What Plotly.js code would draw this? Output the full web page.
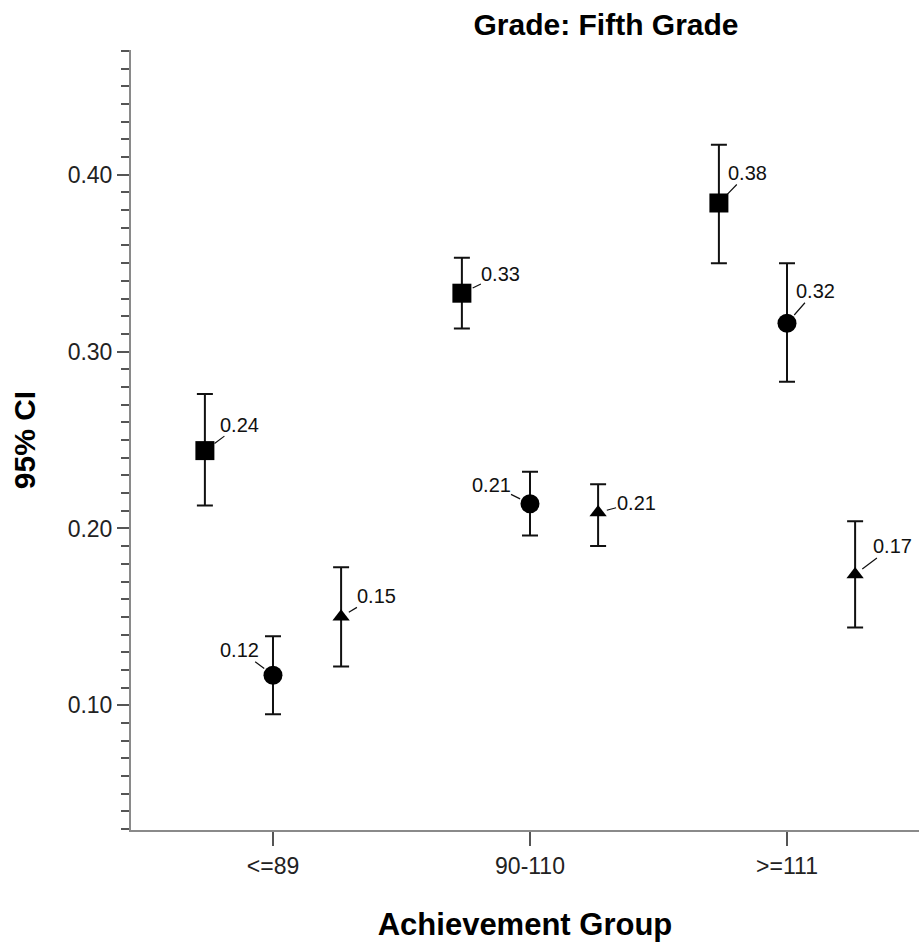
<!DOCTYPE html>
<html>
<head>
<meta charset="utf-8">
<script src="https://cdn.plot.ly/plotly-3.0.1.min.js"></script>
<style>html,body{margin:0;padding:0;background:#fff;}#chart{width:919px;height:949px;}</style>
</head>
<body>
<div id="chart"></div>
<script>
// Data
const categories = ["<=89", "90-110", ">=111"];
const squareMean = [0.244, 0.333, 0.384];
const squareHigh = [0.276, 0.353, 0.417];
const squareLow  = [0.213, 0.313, 0.350];
const circleMean = [0.117, 0.214, 0.316];
const circleHigh = [0.139, 0.232, 0.350];
const circleLow  = [0.095, 0.196, 0.283];
const triangleMean = [0.150, 0.209, 0.174];
const triangleHigh = [0.178, 0.225, 0.204];
const triangleLow  = [0.122, 0.190, 0.144];

const FONT = "Arial, 'Liberation Sans', sans-serif";
const idx = categories.map((c, i) => i);

const series = [
  {mean: squareMean, hi: squareHigh, lo: squareLow, off: -0.265, symbol: 'square', size: 19, so: 12,
   lab: [[35, -26], [39, -19], [29, -30]]},
  {mean: circleMean, hi: circleHigh, lo: circleLow, off: 0, symbol: 'circle', size: 19, so: 11,
   lab: [[-33, -25], [-39, -19], [28, -32]]},
  {mean: triangleMean, hi: triangleHigh, lo: triangleLow, off: 0.265, symbol: 'triangle-up', size: 15, so: 9,
   lab: [[35, -21], [38, -10], [37, -28]]}
];

const traces = [];
const annotations = [];
series.forEach(s => {
  const xs = idx.map(i => i + s.off);
  traces.push({
    type: 'scatter', mode: 'markers', x: xs, y: s.mean, showlegend: false,
    marker: {symbol: s.symbol, size: s.size, color: '#000', line: {width: 0}},
    error_y: {type: 'data', symmetric: false,
      array: s.mean.map((v, i) => s.hi[i] - v),
      arrayminus: s.mean.map((v, i) => v - s.lo[i]),
      color: '#111', thickness: 2, width: 8},
    hoverinfo: 'x+y'
  });
  s.mean.forEach((v, i) => {
    annotations.push({
      x: xs[i], y: v, xref: 'x', yref: 'y', text: v.toFixed(2),
      showarrow: true, arrowhead: 0, arrowwidth: 1.2, arrowcolor: '#111',
      ax: s.lab[i][0], ay: s.lab[i][1], standoff: s.so, borderpad: 0,
      font: {family: FONT, size: 20, color: '#111'}
    });
  });
});

const layout = {
  width: 919, height: 949,
  margin: {l: 131, r: 0, t: 50, b: 119, pad: 0},
  paper_bgcolor: '#fff', plot_bgcolor: '#fff',
  font: {family: FONT, color: '#111'},
  title: {text: 'Grade: Fifth Grade', x: 606/919, xanchor: 'center', xref: 'container',
          y: 1 - 24/949, yanchor: 'middle', yref: 'container',
          font: {family: FONT, size: 30, weight: 'bold', color: '#000'}},
  xaxis: {
    range: [-0.5525, 2.5136], tickmode: 'array', tickvals: idx, ticktext: categories,
    showgrid: false, zeroline: false, showline: true, linecolor: '#8a8a8a', linewidth: 2,
    ticks: 'outside', ticklen: 14, tickwidth: 2, tickcolor: '#555',
    tickfont: {family: FONT, size: 23, color: '#222'},
    title: {text: 'Achievement Group', standoff: 36, font: {family: FONT, size: 31, weight: 'bold', color: '#000'}},
    fixedrange: true
  },
  yaxis: {
    range: [0.0295, 0.4705], tickmode: 'linear', tick0: 0, dtick: 0.1, tickformat: '.2f',
    showgrid: false, zeroline: false, showline: true, linecolor: '#8a8a8a', linewidth: 2,
    ticks: 'outside', ticklen: 12, tickwidth: 2, tickcolor: '#555',
    tickfont: {family: FONT, size: 23, color: '#222'},
    minor: {tickmode: 'linear', tick0: 0, dtick: 0.01, ticks: 'outside', ticklen: 8, tickwidth: 2, tickcolor: '#555', showgrid: false},
    title: {text: '95% CI', standoff: 23, font: {family: FONT, size: 30, weight: 'bold', color: '#000'}},
    fixedrange: true
  },
  annotations: annotations
};

Plotly.newPlot('chart', traces, layout, {displayModeBar: false, staticPlot: true});
</script>
</body>
</html>
